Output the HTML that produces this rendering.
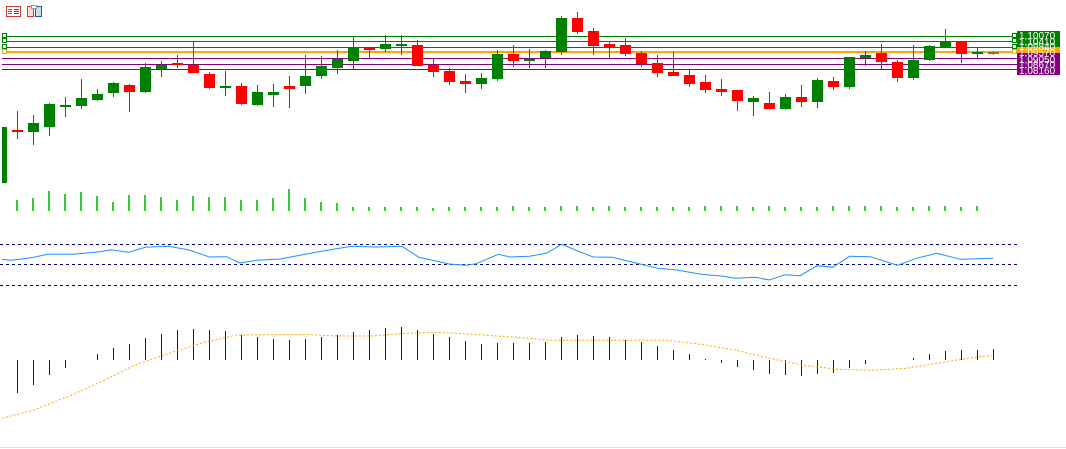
<!DOCTYPE html>
<html><head><meta charset="utf-8"><style>
html,body{margin:0;padding:0;background:#fff;width:1066px;height:449px;overflow:hidden}
svg{display:block}
text{font-family:"Liberation Sans",sans-serif}
</style></head><body>
<svg id="s" width="1066" height="449" viewBox="0 0 1066 449" xmlns="http://www.w3.org/2000/svg" shape-rendering="crispEdges">
<rect x="0" y="0" width="1066" height="449" fill="#fff"/>
<!-- icons -->
<rect x="6.5" y="6.5" width="14" height="10" fill="#fff" stroke="#d33" stroke-width="1"/>
<line x1="8" y1="9.5" x2="12" y2="9.5" stroke="#d33"/><line x1="8" y1="11.5" x2="12" y2="11.5" stroke="#d33"/><line x1="8" y1="13.5" x2="12" y2="13.5" stroke="#d33"/>
<line x1="14" y1="9.5" x2="19" y2="9.5" stroke="#1060b0"/><line x1="14" y1="11.5" x2="19" y2="11.5" stroke="#1060b0"/><line x1="14" y1="13.5" x2="19" y2="13.5" stroke="#1060b0"/>
<rect x="27.5" y="6.5" width="6" height="10" fill="#fdd" stroke="#d33"/>
<rect x="35.5" y="6.5" width="6" height="10" fill="#cde" stroke="#1060b0"/>
<rect x="31.5" y="5.5" width="5" height="3" fill="#fff" stroke="#999"/>
<g id="g"></g>
<line x1="0" y1="447.5" x2="1066" y2="447.5" stroke="#e4e4e4"/>
<rect x="1017" y="31" width="43" height="17" fill="#008000"/>
<rect x="1017" y="47" width="43" height="11" fill="#ffa500"/>
<rect x="1017" y="53" width="43" height="22" fill="#800080"/>
<text x="1019" y="39" font-size="10" fill="#fff">1,10070</text>
<text x="1019" y="45" font-size="10" fill="#fff">1,10410</text>
<text x="1019" y="50" font-size="10" fill="#fff">1,09840</text>
<text x="1019" y="56" font-size="10" fill="#fff">1,09570</text>
<text x="1019" y="63" font-size="10" fill="#fff">1,09050</text>
<text x="1019" y="68" font-size="10" fill="#fff">1,08670</text>
<text x="1019" y="74" font-size="10" fill="#fff">1,08160</text>
</svg>
<script>
var g=document.getElementById('g'),h='';
function L(x1,y1,x2,y2,c,w,d){h+='<line x1="'+x1+'" y1="'+y1+'" x2="'+x2+'" y2="'+y2+'" stroke="'+c+'" stroke-width="'+(w||1)+'"'+(d?' stroke-dasharray="'+d+'"':'')+'/>';}
function R(x,y,w,hh,c){h+='<rect x="'+x+'" y="'+y+'" width="'+w+'" height="'+hh+'" fill="'+c+'"/>';}
// level lines
[[36,'#008000'],[41,'#008000'],[47,'#008000'],[58,'#800080'],[64,'#800080'],[69,'#800080']].forEach(function(a){L(2,a[0]+.5,1017,a[0]+.5,a[1],1);});
L(2,52,1017,52,'#ffa500',2);
[36,41,47,52].forEach(function(y,i){var c=i==3?'#ffa500':'#008000';h+='<rect x="2.5" y="'+(y-2.5)+'" width="4" height="4" fill="#fff" stroke="'+c+'"/><rect x="1012.5" y="'+(y-2.5)+'" width="4" height="4" fill="#fff" stroke="'+c+'"/>';});
// candles: [type, bodyTop, bodyBot, wickTop, wickBot]
var C=[['g',104,127,103,136],['g',105,105,97,117],['g',98,106,79,109],['g',94,100,89,101],['g',83,93,82,97],['r',85,92,84,112],['g',67,92,63,93],['g',65,69,61,77],['r',63,64,55,68],['r',65,73,42,73],['r',74,88,72,89],['g',86,86,71,96],['r',86,104,83,105],['g',92,105,85,106],['g',92,95,84,107],['r',86,89,76,108],['g',76,86,55,94],['g',66,76,56,79],['g',59,68,50,74],['g',47,61,36,69],['r',48,49,47,58],['g',44,49,35,52],['g',44,46,35,55],['r',45,66,40,66],['r',65,72,58,77],['r',71,82,68,85],['r',81,84,74,93],['g',78,84,73,89],['g',54,79,50,81],['r',54,61,45,67],['g',59,60,49,68],['g',51,58,50,68],['g',18,52,16,55],['r',18,32,12,34],['r',31,46,28,55],['r',44,47,42,58],['r',45,54,38,56],['r',53,64,51,67],['r',63,73,55,77],['r',72,76,52,76],['r',75,84,69,87],['r',82,90,75,93],['r',89,92,79,96],['r',90,101,90,111],['g',98,102,96,116],['r',103,109,92,110],['g',97,109,94,110],['r',97,102,85,107],['g',80,102,78,108],['r',81,87,77,90],['g',57,87,57,89],['g',55,58,51,66],['r',53,62,44,69],['r',62,78,60,82],['g',60,78,45,80],['g',46,60,45,61],['g',42,47,29,47],['r',42,54,42,63],['g',52,54,47,58],['o',52,53,51,55]];
C.unshift(['r',130,131,111,139]);C.unshift(['g',123,132,115,145]);
// reorder: k0 red at 17, k1 green at 33
C=[C[1],C[0]].concat(C.slice(2));
R(2,127,5,56,'#008000');
C.forEach(function(c,k){var x=17+16*k,col=c[0]=='g'?'#008000':c[0]=='r'?'#ff0000':'#808000';
L(x+.5,c[3],x+.5,c[4],col,1);var bh=Math.max(2,c[2]-c[1]);R(x-5,c[1],11,bh,col);});
// volume
var V=[11,13,20,17,19,15,9,16,16,14,11,15,14,14,11,11,13,22,13,9,8,4,4,4,4,4,3,4,4,4,4,5,4,4,5,5,4,5,4,4,4,4,4,5,5,5,4,5,4,4,4,5,5,5,5,4,4,5];
V=V.concat([5,4,5,6]);
for(var k=0;k<61;k++){var x=17+16*k,v=V[k]||4;R(x-1,211-v,2,v,'#32cd32');}
// RSI
L(0,244.5,1017,244.5,'#000080',1,'3,3');L(0,264.5,1017,264.5,'#000080',1,'3,3');L(0,285.5,1017,285.5,'#000080',1,'3,3');
var P1=[[6,238],[30,241],[60,238],[100,232],[140,223],[215,223],[290,216],[330,209],[380,217],[430,202],[500,199],[560,210],[620,231],[670,230],[710,249],[760,241],[830,237],[880,227],[960,212],[1040,199],[1110,201],[1190,199],[1240,232],[1330,252],[1380,256],[1410,251],[1475,223],[1510,231],[1568,229]];
var P2=[[50,219],[92,193],[140,213],[185,231],[240,232],[330,254],[375,265],[430,270],[500,283],[560,288],[600,295],[660,292],[700,300],[745,284],[790,287],[840,257],[885,262],[935,229],[995,230],[1075,256],[1130,235],[1190,220],[1260,238],[1355,235]];
var pts=P1.map(function(p){return (p[0]/2.96).toFixed(1)+','+(p[1]/3+180).toFixed(1)}).concat(P2.map(function(p){return (p[0]/2.925+530).toFixed(1)+','+(p[1]/3+180).toFixed(1)}));
h+='<polyline points="'+pts.join(' ')+'" fill="none" stroke="#1e90ff" stroke-width="1" shape-rendering="auto"/>';
// MACD bars
var M=[393,385,375,368,360,354,348,344,338,334,330,329,330,331,335,337,339,340,339,337,335,332,330,328,327,330,334,337,341,344,343,343,343,342,337,335,336,337,340,342,346,350,354,359,363,367,370,374,375,376,374,373,368,364,360,360,358,354,351,350,350,349];
M.forEach(function(y,k){if(Math.abs(y-360)<1)return;var x=17+16*k;L(x+.5,Math.min(y,360),x+.5,Math.max(y,360),'#0000ff',1);});
var S1=[[6,715],[100,690],[200,650],[300,605],[400,555],[500,520],[600,488],[700,465],[900,463],[1000,468],[1100,468],[1200,460],[1300,457],[1400,463],[1568,475]];
var S2=[[50,481],[400,481],[500,493],[600,510],[700,535],[800,556],[900,568],[1000,571],[1100,565],[1200,548],[1300,532],[1350,527]];
var sp=S1.map(function(p){return (p[0]/2.96).toFixed(1)+','+(p[1]/3+180).toFixed(1)}).concat(S2.map(function(p){return (p[0]/2.925+530).toFixed(1)+','+(p[1]/3+180).toFixed(1)}));
h+='<polyline points="'+sp.join(' ')+'" fill="none" stroke="#ffa500" stroke-width="1" stroke-dasharray="2,2" shape-rendering="auto"/>';
g.innerHTML=h;
</script>
</body></html>
